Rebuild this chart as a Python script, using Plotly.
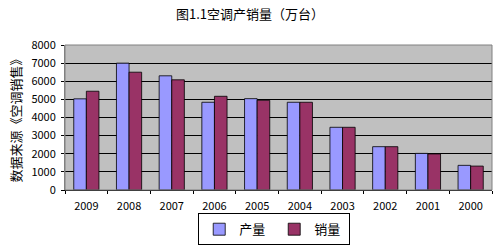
import plotly.graph_objects as go

years = ["2009", "2008", "2007", "2006", "2005", "2004", "2003", "2002", "2001", "2000"]
production = [5030, 7000, 6300, 4840, 5040, 4840, 3460, 2390, 2020, 1360]
sales = [5450, 6500, 6080, 5170, 4950, 4840, 3460, 2390, 1990, 1320]
y_ticks = [0, 1000, 2000, 3000, 4000, 5000, 6000, 7000, 8000]

font_family = "Noto Sans CJK SC, DejaVu Sans, sans-serif"

fig = go.Figure()
fig.add_trace(go.Bar(x=years, y=production, name="产量",
                     marker=dict(color="#9999FF", line=dict(color="#000000", width=0.8))))
fig.add_trace(go.Bar(x=years, y=sales, name="销量",
                     marker=dict(color="#993366", line=dict(color="#000000", width=0.8))))

fig.update_layout(
    width=500, height=249,
    margin=dict(l=65, r=8, t=45, b=59, autoexpand=False),
    paper_bgcolor="white",
    plot_bgcolor="#C0C0C0",
    barmode="group",
    bargap=0.41,
    bargroupgap=0,
    font=dict(family=font_family, size=11, color="#000000"),
    title=dict(text="图1.1空调产销量（万台）", x=0.5, xanchor="center", y=0.94, yanchor="middle",
               font=dict(size=13, family=font_family)),
    showlegend=True,
    legend=dict(orientation="h", x=0.49, xanchor="center", yref="container", y=0.015, yanchor="bottom",
                bordercolor="#000000", borderwidth=1, font=dict(size=13),
                itemwidth=30, entrywidth=30, entrywidthmode="pixels", traceorder="normal",
                tracegroupgap=0),
    xaxis=dict(showgrid=False, showline=True, linecolor="#000000", linewidth=1,
               ticks="outside", ticklen=3, tickcolor="#000000", ticklabelstandoff=6,
               tickson="boundaries", tickfont=dict(size=11), mirror=False, automargin=False),
    yaxis=dict(range=[0, 8000], tickvals=y_ticks, showgrid=True, gridcolor="#000000",
               gridwidth=1, showline=True, linecolor="#808080", linewidth=1,
               ticks="outside", ticklen=3, tickcolor="#000000", ticklabelstandoff=3,
               tickfont=dict(size=11), zeroline=False, automargin=False,
               title=dict(text="数据来源《空调销售》", font=dict(size=13), standoff=6)),
)
fig.add_shape(type="rect", xref="paper", yref="paper", x0=0, x1=1, y0=0, y1=1,
              line=dict(color="#808080", width=1), layer="above")

fig.write_html("out.html")
